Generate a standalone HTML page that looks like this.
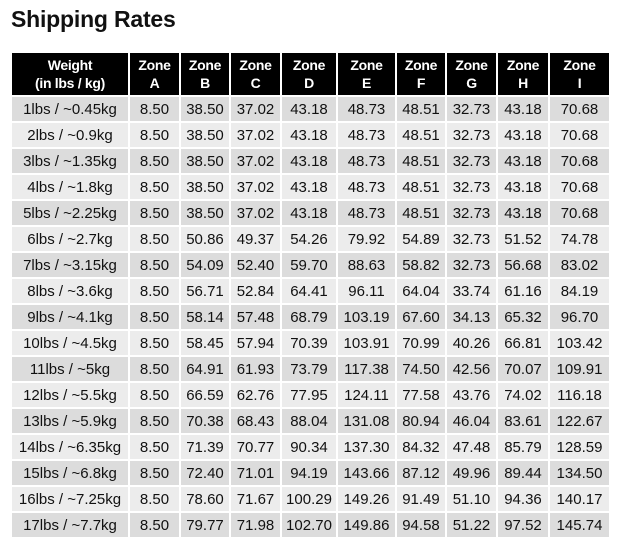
<!DOCTYPE html>
<html><head><style>
body{margin:0;background:#fff;width:624px;height:546px;overflow:hidden;font-family:"Liberation Sans",Arial,sans-serif;}
h1{position:absolute;left:11px;top:6px;margin:0;font-size:23px;font-weight:bold;color:#111;letter-spacing:-0.2px;}
table{position:absolute;left:10px;top:51px;border-collapse:collapse;table-layout:fixed;}
td,th{border:2px solid #fff;padding:0;text-align:center;font-size:15px;color:#111;}
th{background:#000;color:#fff;font-weight:bold;font-size:14px;line-height:18px;height:42px;letter-spacing:-0.3px}
td{height:24px;}
tr:nth-child(even) td{background:#dcdcdc}
tr:nth-child(odd) td{background:#ececec}
</style></head><body>
<h1>Shipping Rates</h1>
<table>
<colgroup><col style="width:118px"><col style="width:51px"><col style="width:50px"><col style="width:51px"><col style="width:56px"><col style="width:59px"><col style="width:50px"><col style="width:51px"><col style="width:52px"><col style="width:61px"></colgroup>
<tr><th>Weight<br>(in lbs / kg)</th><th>Zone<br>A</th><th>Zone<br>B</th><th>Zone<br>C</th><th>Zone<br>D</th><th>Zone<br>E</th><th>Zone<br>F</th><th>Zone<br>G</th><th>Zone<br>H</th><th>Zone<br>I</th></tr>
<tr><td>1lbs / ~0.45kg</td><td>8.50</td><td>38.50</td><td>37.02</td><td>43.18</td><td>48.73</td><td>48.51</td><td>32.73</td><td>43.18</td><td>70.68</td></tr>
<tr><td>2lbs / ~0.9kg</td><td>8.50</td><td>38.50</td><td>37.02</td><td>43.18</td><td>48.73</td><td>48.51</td><td>32.73</td><td>43.18</td><td>70.68</td></tr>
<tr><td>3lbs / ~1.35kg</td><td>8.50</td><td>38.50</td><td>37.02</td><td>43.18</td><td>48.73</td><td>48.51</td><td>32.73</td><td>43.18</td><td>70.68</td></tr>
<tr><td>4lbs / ~1.8kg</td><td>8.50</td><td>38.50</td><td>37.02</td><td>43.18</td><td>48.73</td><td>48.51</td><td>32.73</td><td>43.18</td><td>70.68</td></tr>
<tr><td>5lbs / ~2.25kg</td><td>8.50</td><td>38.50</td><td>37.02</td><td>43.18</td><td>48.73</td><td>48.51</td><td>32.73</td><td>43.18</td><td>70.68</td></tr>
<tr><td>6lbs / ~2.7kg</td><td>8.50</td><td>50.86</td><td>49.37</td><td>54.26</td><td>79.92</td><td>54.89</td><td>32.73</td><td>51.52</td><td>74.78</td></tr>
<tr><td>7lbs / ~3.15kg</td><td>8.50</td><td>54.09</td><td>52.40</td><td>59.70</td><td>88.63</td><td>58.82</td><td>32.73</td><td>56.68</td><td>83.02</td></tr>
<tr><td>8lbs / ~3.6kg</td><td>8.50</td><td>56.71</td><td>52.84</td><td>64.41</td><td>96.11</td><td>64.04</td><td>33.74</td><td>61.16</td><td>84.19</td></tr>
<tr><td>9lbs / ~4.1kg</td><td>8.50</td><td>58.14</td><td>57.48</td><td>68.79</td><td>103.19</td><td>67.60</td><td>34.13</td><td>65.32</td><td>96.70</td></tr>
<tr><td>10lbs / ~4.5kg</td><td>8.50</td><td>58.45</td><td>57.94</td><td>70.39</td><td>103.91</td><td>70.99</td><td>40.26</td><td>66.81</td><td>103.42</td></tr>
<tr><td>11lbs / ~5kg</td><td>8.50</td><td>64.91</td><td>61.93</td><td>73.79</td><td>117.38</td><td>74.50</td><td>42.56</td><td>70.07</td><td>109.91</td></tr>
<tr><td>12lbs / ~5.5kg</td><td>8.50</td><td>66.59</td><td>62.76</td><td>77.95</td><td>124.11</td><td>77.58</td><td>43.76</td><td>74.02</td><td>116.18</td></tr>
<tr><td>13lbs / ~5.9kg</td><td>8.50</td><td>70.38</td><td>68.43</td><td>88.04</td><td>131.08</td><td>80.94</td><td>46.04</td><td>83.61</td><td>122.67</td></tr>
<tr><td>14lbs / ~6.35kg</td><td>8.50</td><td>71.39</td><td>70.77</td><td>90.34</td><td>137.30</td><td>84.32</td><td>47.48</td><td>85.79</td><td>128.59</td></tr>
<tr><td>15lbs / ~6.8kg</td><td>8.50</td><td>72.40</td><td>71.01</td><td>94.19</td><td>143.66</td><td>87.12</td><td>49.96</td><td>89.44</td><td>134.50</td></tr>
<tr><td>16lbs / ~7.25kg</td><td>8.50</td><td>78.60</td><td>71.67</td><td>100.29</td><td>149.26</td><td>91.49</td><td>51.10</td><td>94.36</td><td>140.17</td></tr>
<tr><td>17lbs / ~7.7kg</td><td>8.50</td><td>79.77</td><td>71.98</td><td>102.70</td><td>149.86</td><td>94.58</td><td>51.22</td><td>97.52</td><td>145.74</td></tr>
</table>
</body></html>
